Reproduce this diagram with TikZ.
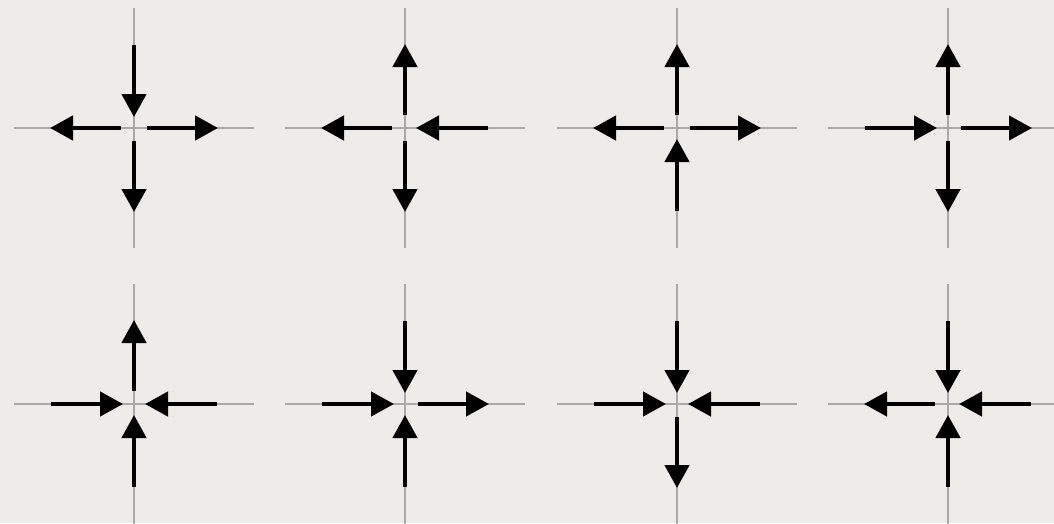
\documentclass[tikz,border=0pt]{standalone}
\usetikzlibrary{arrows.meta}
\definecolor{cPaper}{HTML}{EEECE8}
\definecolor{cAxis} {HTML}{A9A9A9}
\tikzset{
  axisln/.style={draw=cAxis,line width=2.6pt},
  flow/.style  ={-{Triangle[length=23pt,width=24pt]},draw=black,line width=4.5pt},
}
\begin{document}
\begin{tikzpicture}[x=1pt,y=-1pt]
\fill[cPaper] (0,0) rectangle (1054,523);
\useasboundingbox (0,0) rectangle (1054,523);
\clip (0,0) rectangle (1054,523);

% ---- crosses: angle/start/end of each arm (270 = up) ---------------------
\foreach \name/\cx/\cy/\arms in {%
  p1/134/128/{270/83/11,0/13/84,90/13/84,180/13/84},
  p2/405/128/{270/13/84,0/83/11,90/13/84,180/13/84},
  p3/677/128/{270/13/84,0/13/84,90/83/11,180/13/84},
  p4/948/128/{270/13/84,0/13/84,90/13/84,180/83/11},
  p5/134/404/{270/13/84,0/83/11,90/83/11,180/83/11},
  p6/405/404/{270/83/11,0/13/84,90/83/11,180/83/11},
  p7/677/404/{270/83/11,0/83/11,90/13/84,180/83/11},
  p8/948/404/{270/83/11,0/83/11,90/83/11,180/13/84}}
{
  \coordinate (\name) at (\cx,\cy);
  \draw[axisln] ([shift={(0,-120)}]\name) -- ([shift={(0,120)}]\name);
  \draw[axisln] ([shift={(-120,0)}]\name) -- ([shift={(120,0)}]\name);
  \foreach \ang/\ra/\rb in \arms
    {\draw[flow] ([shift={(\ang:\ra)}]\name) -- ([shift={(\ang:\rb)}]\name);}
}
\end{tikzpicture}
\end{document}
